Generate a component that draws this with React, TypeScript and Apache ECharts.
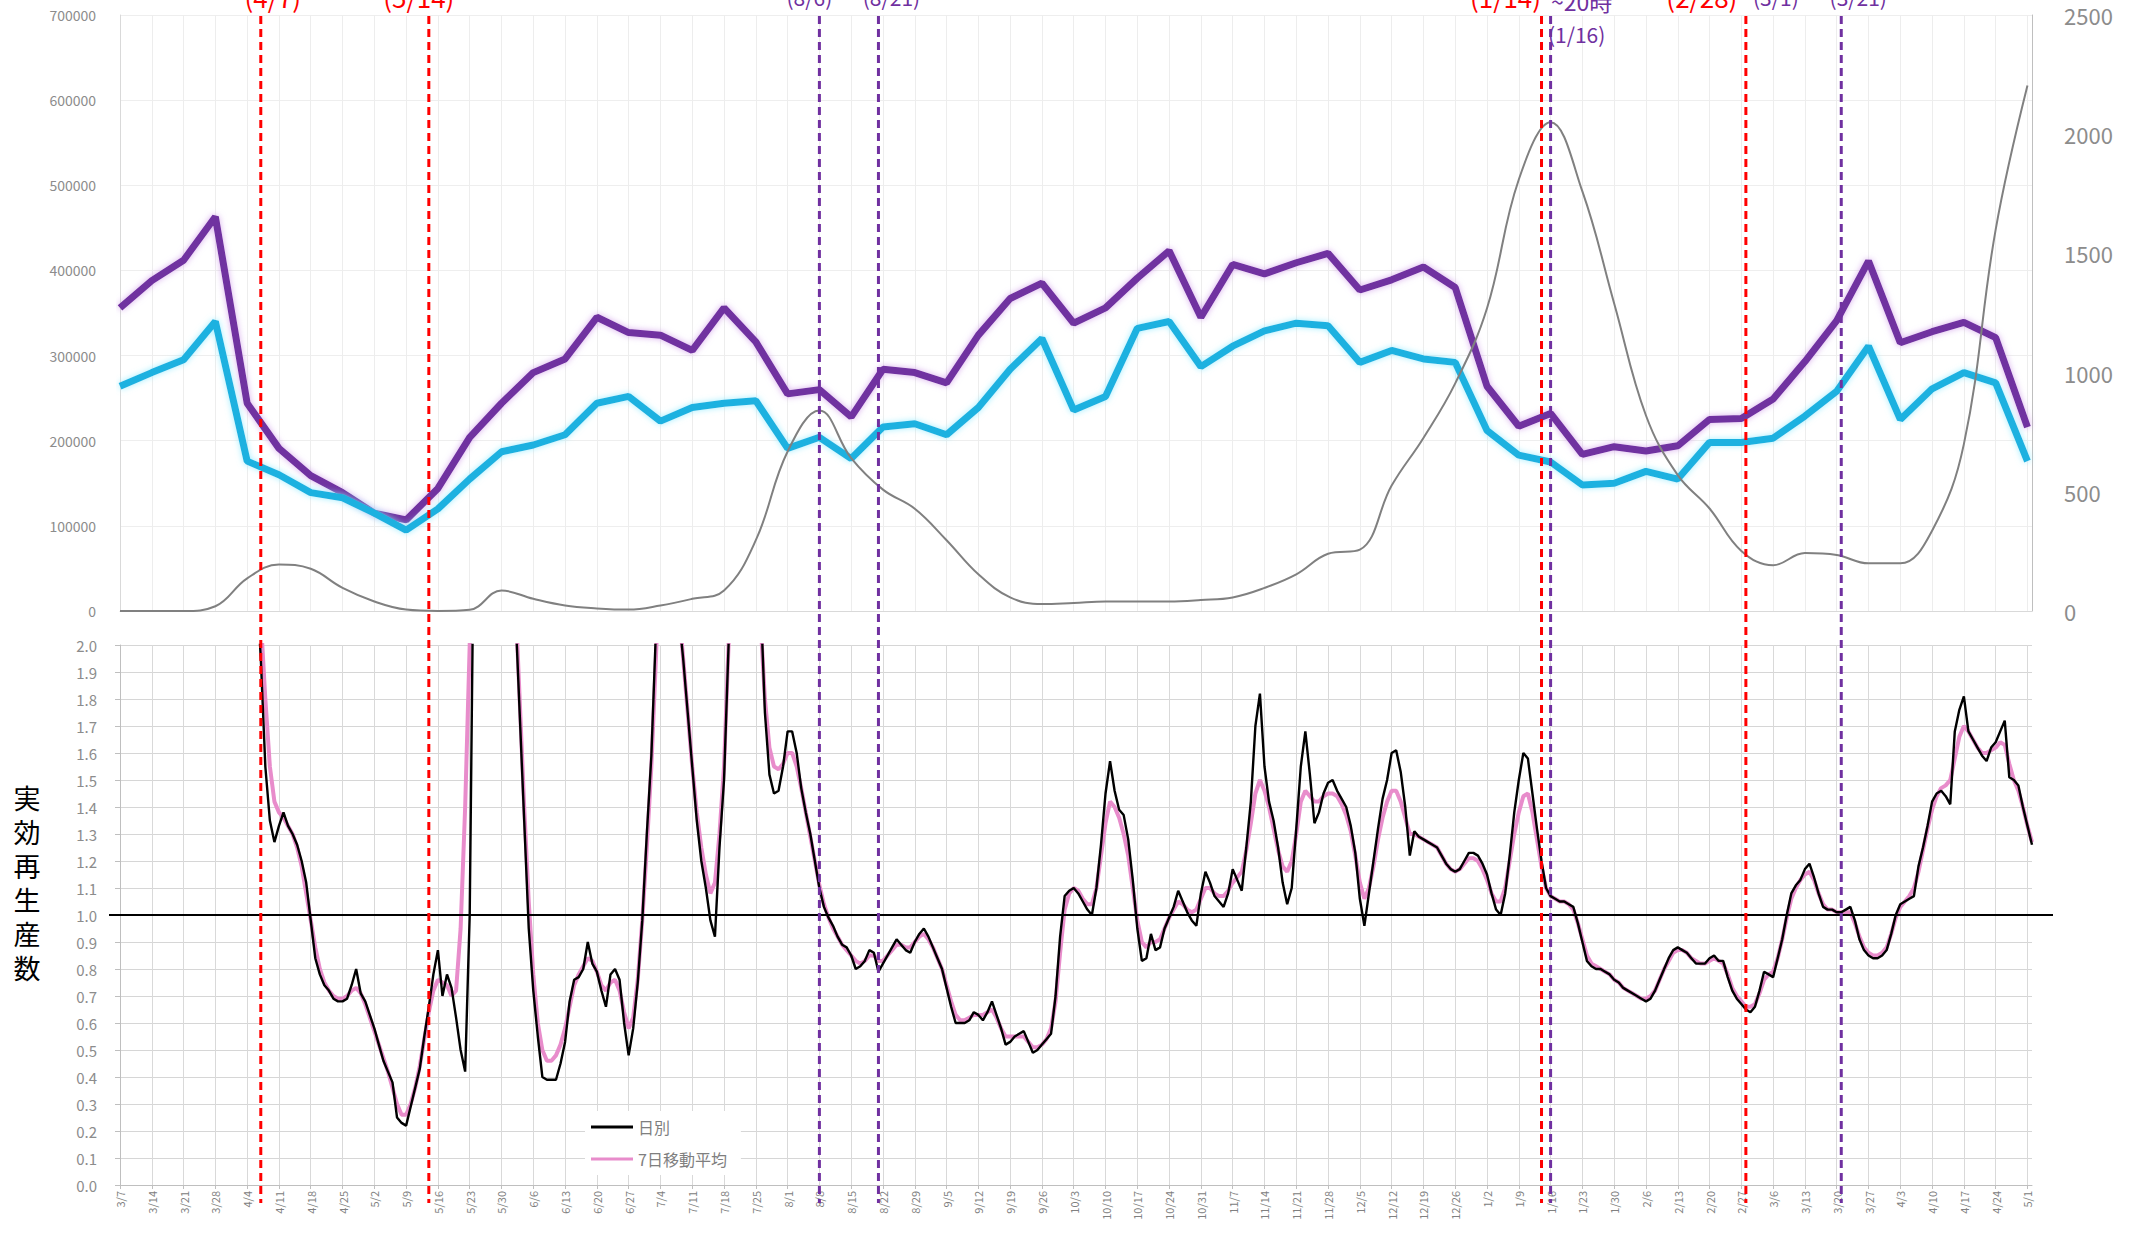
import React, { useEffect, useRef } from "react";
import * as echarts from "echarts";

// ---- categories: one per day, 2020-03-07 .. 2021-05-02 ----
const START_Y = 2020;
const START_M = 2; // March (0-based)
const START_D = 7;
const N_DAYS = 422;
const dayLabels: string[] = [];
for (let i = 0; i < N_DAYS; i++) {
  const d = new Date(START_Y, START_M, START_D + i);
  dayLabels.push(`${d.getMonth() + 1}/${d.getDate()}`);
}

// ---- top chart: weekly values (every 7 days from 3/7) ----
const purpleWeekly = [
  356000, 388000, 412000, 463000, 244000, 191000, 159000, 139000, 115000, 107000,
  144000, 204000, 244000, 280000, 296000, 345000, 327000, 324000, 306000, 356000,
  316000, 255000, 260000, 228000, 284000, 280000, 268000, 324000, 367000, 385000,
  338000, 356000, 391000, 423000, 345000, 407000, 396000, 409000, 420000, 377000,
  389000, 404000, 380000, 264000, 217000, 232000, 184000, 193000, 188000, 194000,
  225000, 226000, 249000, 293000, 341000, 411000, 315000, 328000, 339000, 321000, 216000,
];
const cyanWeekly = [
  264000, 280000, 295000, 340000, 176000, 160000, 139000, 133000, 115000, 95000,
  120000, 155000, 187000, 195000, 207000, 244000, 252000, 223000, 239000, 244000,
  247000, 191000, 204000, 179000, 216000, 220000, 207000, 239000, 284000, 320000,
  236000, 252000, 332000, 340000, 287000, 311000, 329000, 338000, 335000, 292000,
  306000, 296000, 292000, 212000, 183000, 175000, 148000, 150000, 164000, 155000,
  198000, 198000, 203000, 229000, 258000, 311000, 225000, 261000, 280000, 268000, 176000,
];
const grayWeekly = [
  0, 0, 0, 20, 137, 195, 177, 97, 40, 6,
  0, 5, 86, 51, 23, 11, 6, 23, 51, 86,
  297, 669, 841, 641, 509, 429, 297, 154, 57, 29,
  34, 40, 40, 40, 46, 57, 97, 154, 240, 257,
  526, 726, 955, 1270, 1810, 2050, 1760, 1290, 820, 570,
  430, 252, 192, 243, 235, 200, 200, 337, 700, 1600, 2204,
];

// ---- bottom chart: daily values from day index 30 (4/6) to 421 ----
const R_START = 30;
const rDaily = [
  2.25, 1.95, 1.55, 1.35, 1.27, 1.33, 1.38, 1.33, 1.30, 1.26,
  1.20, 1.12, 0.98, 0.84, 0.78, 0.74, 0.72, 0.69, 0.68, 0.68,
  0.69, 0.74, 0.80, 0.71, 0.68, 0.63, 0.58, 0.52, 0.46, 0.42,
  0.38, 0.25, 0.23, 0.22, 0.29, 0.36, 0.43, 0.55, 0.66, 0.78,
  0.87, 0.70, 0.78, 0.73, 0.62, 0.50, 0.42, 1.00, 2.60, 3.00,
  3.00, 3.00, 3.00, 3.00, 3.00, 3.00, 2.90, 2.15, 1.75, 1.35,
  0.95, 0.72, 0.55, 0.40, 0.39, 0.39, 0.39, 0.45, 0.53, 0.68,
  0.76, 0.77, 0.80, 0.90, 0.82, 0.79, 0.72, 0.66, 0.78, 0.80,
  0.76, 0.60, 0.48, 0.58, 0.75, 0.98, 1.30, 1.59, 2.05, 2.60,
  3.00, 3.00, 2.60, 2.12, 1.95, 1.75, 1.55, 1.35, 1.20, 1.10,
  0.98, 0.92, 1.25, 1.50, 2.00, 2.60, 3.00, 3.00, 3.00, 3.00,
  2.60, 2.20, 1.75, 1.52, 1.45, 1.46, 1.55, 1.68, 1.68, 1.60,
  1.47, 1.38, 1.30, 1.20, 1.10, 1.03, 0.99, 0.96, 0.92, 0.89,
  0.88, 0.85, 0.80, 0.81, 0.83, 0.87, 0.86, 0.79, 0.82, 0.85,
  0.88, 0.91, 0.89, 0.87, 0.86, 0.90, 0.93, 0.95, 0.92, 0.88,
  0.84, 0.80, 0.73, 0.66, 0.60, 0.60, 0.60, 0.61, 0.64, 0.63,
  0.61, 0.64, 0.68, 0.63, 0.58, 0.52, 0.53, 0.55, 0.56, 0.57,
  0.53, 0.49, 0.50, 0.52, 0.54, 0.56, 0.70, 0.92, 1.07, 1.09,
  1.10, 1.08, 1.05, 1.02, 1.00, 1.10, 1.26, 1.45, 1.57, 1.46,
  1.39, 1.37, 1.28, 1.13, 0.95, 0.83, 0.84, 0.93, 0.87, 0.88,
  0.95, 0.99, 1.03, 1.09, 1.05, 1.01, 0.98, 0.96, 1.08, 1.16,
  1.12, 1.07, 1.05, 1.03, 1.08, 1.17, 1.13, 1.09, 1.25, 1.42,
  1.70, 1.82, 1.55, 1.42, 1.35, 1.25, 1.12, 1.04, 1.10, 1.32,
  1.55, 1.68, 1.52, 1.34, 1.38, 1.45, 1.49, 1.50, 1.46, 1.43,
  1.40, 1.33, 1.23, 1.06, 0.96, 1.08, 1.20, 1.32, 1.43, 1.50,
  1.60, 1.61, 1.53, 1.40, 1.22, 1.31, 1.29, 1.28, 1.27, 1.26,
  1.25, 1.22, 1.19, 1.17, 1.16, 1.17, 1.20, 1.23, 1.23, 1.22,
  1.19, 1.15, 1.08, 1.02, 1.00, 1.08, 1.22, 1.38, 1.50, 1.60,
  1.58, 1.45, 1.32, 1.20, 1.10, 1.07, 1.06, 1.05, 1.05, 1.04,
  1.03, 0.97, 0.90, 0.83, 0.81, 0.80, 0.80, 0.79, 0.78, 0.76,
  0.75, 0.73, 0.72, 0.71, 0.70, 0.69, 0.68, 0.69, 0.72, 0.76,
  0.80, 0.84, 0.87, 0.88, 0.87, 0.86, 0.84, 0.82, 0.82, 0.82,
  0.84, 0.85, 0.83, 0.83, 0.77, 0.72, 0.69, 0.67, 0.65, 0.64,
  0.66, 0.72, 0.79, 0.78, 0.77, 0.84, 0.91, 1.00, 1.08, 1.11,
  1.13, 1.17, 1.19, 1.14, 1.08, 1.03, 1.02, 1.02, 1.01, 1.01,
  1.02, 1.03, 0.98, 0.91, 0.87, 0.85, 0.84, 0.84, 0.85, 0.87,
  0.93, 1.00, 1.04, 1.05, 1.06, 1.07, 1.18, 1.25, 1.33, 1.42,
  1.45, 1.46, 1.44, 1.41, 1.68, 1.76, 1.81, 1.68, 1.65, 1.62,
  1.59, 1.57, 1.62, 1.64, 1.68, 1.72, 1.51, 1.50, 1.48, 1.40,
  1.33, 1.26,
];
const rMA7 = [
  2.40, 2.10, 1.80, 1.55, 1.42, 1.38, 1.36, 1.33, 1.30, 1.25,
  1.18, 1.08, 0.98, 0.88, 0.80, 0.75, 0.72, 0.70, 0.69, 0.69,
  0.70, 0.72, 0.73, 0.71, 0.67, 0.62, 0.57, 0.52, 0.47, 0.42,
  0.36, 0.30, 0.26, 0.26, 0.30, 0.36, 0.44, 0.54, 0.64, 0.72,
  0.76, 0.75, 0.74, 0.70, 0.72, 0.95, 1.40, 2.00, 2.60, 3.00,
  3.00, 3.00, 3.00, 3.00, 3.00, 3.00, 2.60, 2.20, 1.80, 1.40,
  1.05, 0.78, 0.60, 0.50, 0.46, 0.46, 0.48, 0.52, 0.58, 0.66,
  0.74, 0.78, 0.81, 0.84, 0.83, 0.79, 0.74, 0.72, 0.75, 0.76,
  0.72, 0.64, 0.58, 0.62, 0.76, 0.98, 1.25, 1.55, 1.95, 2.40,
  2.80, 2.80, 2.40, 2.15, 1.95, 1.75, 1.55, 1.38, 1.25, 1.15,
  1.08, 1.12, 1.30, 1.55, 2.00, 2.50, 2.80, 2.80, 2.80, 2.60,
  2.40, 2.10, 1.80, 1.62, 1.55, 1.54, 1.56, 1.60, 1.60, 1.55,
  1.47, 1.38, 1.29, 1.20, 1.11, 1.04, 0.99, 0.95, 0.92, 0.89,
  0.87, 0.85, 0.83, 0.82, 0.83, 0.85, 0.85, 0.83, 0.83, 0.85,
  0.87, 0.89, 0.89, 0.88, 0.88, 0.90, 0.92, 0.93, 0.91, 0.88,
  0.84, 0.80, 0.74, 0.68, 0.63, 0.61, 0.61, 0.62, 0.63, 0.63,
  0.63, 0.64, 0.65, 0.62, 0.58, 0.55, 0.55, 0.55, 0.55, 0.55,
  0.53, 0.51, 0.51, 0.52, 0.54, 0.58, 0.68, 0.86, 1.02, 1.08,
  1.10, 1.09, 1.06, 1.04, 1.04, 1.10, 1.22, 1.34, 1.42, 1.40,
  1.36, 1.30, 1.22, 1.10, 0.98, 0.90, 0.88, 0.90, 0.90, 0.91,
  0.95, 0.99, 1.02, 1.05, 1.04, 1.02, 1.01, 1.02, 1.06, 1.10,
  1.10, 1.08, 1.07, 1.07, 1.09, 1.12, 1.14, 1.16, 1.24, 1.34,
  1.45, 1.50, 1.46, 1.40, 1.32, 1.24, 1.18, 1.16, 1.20, 1.30,
  1.42, 1.46, 1.44, 1.42, 1.42, 1.44, 1.45, 1.45, 1.44, 1.41,
  1.37, 1.31, 1.22, 1.12, 1.06, 1.10, 1.18, 1.28, 1.36, 1.42,
  1.46, 1.46, 1.42, 1.36, 1.30, 1.30, 1.29, 1.28, 1.27, 1.26,
  1.25, 1.22, 1.19, 1.17, 1.16, 1.17, 1.19, 1.21, 1.21, 1.20,
  1.17, 1.13, 1.08, 1.05, 1.05, 1.10, 1.20, 1.30, 1.38, 1.44,
  1.45, 1.38, 1.28, 1.18, 1.10, 1.07, 1.06, 1.05, 1.05, 1.04,
  1.02, 0.97, 0.91, 0.85, 0.82, 0.81, 0.80, 0.79, 0.78, 0.76,
  0.75, 0.73, 0.72, 0.71, 0.70, 0.69, 0.69, 0.70, 0.72, 0.76,
  0.80, 0.83, 0.86, 0.87, 0.87, 0.86, 0.84, 0.83, 0.82, 0.82,
  0.83, 0.84, 0.83, 0.82, 0.78, 0.73, 0.70, 0.68, 0.66, 0.66,
  0.67, 0.71, 0.76, 0.78, 0.79, 0.84, 0.91, 0.99, 1.06, 1.10,
  1.13, 1.15, 1.16, 1.13, 1.08, 1.04, 1.02, 1.02, 1.01, 1.01,
  1.01, 1.01, 0.97, 0.92, 0.88, 0.86, 0.85, 0.85, 0.86, 0.88,
  0.93, 0.99, 1.03, 1.05, 1.07, 1.10, 1.16, 1.24, 1.32, 1.39,
  1.44, 1.47, 1.48, 1.50, 1.58, 1.66, 1.70, 1.68, 1.65, 1.62,
  1.60, 1.60, 1.61, 1.62, 1.64, 1.63, 1.56, 1.50, 1.46, 1.40,
  1.33, 1.27,
];

// ---- event markers (day index from 3/7/2020) ----
const redDays = [31, 68, 313, 358];
const purpleDays = [154, 167, 315, 379];
const eventLabels = [
  { day: 31, text: "(4/7)", color: "#ff0000", size: 26, dx: 12, y: 9 },
  { day: 68, text: "(5/14)", color: "#ff0000", size: 26, dx: -10, y: 9 },
  { day: 154, text: "(8/6)", color: "#7030a0", size: 21, dx: -10, y: 7 },
  { day: 167, text: "(8/21)", color: "#7030a0", size: 21, dx: 13, y: 7 },
  { day: 313, text: "(1/14)", color: "#ff0000", size: 26, dx: -36, y: 9 },
  { day: 315, text: "~20時", color: "#7030a0", size: 23, dx: 31, y: 12 },
  { day: 315, text: "(1/16)", color: "#7030a0", size: 21, dx: 26, y: 44 },
  { day: 358, text: "(2/28)", color: "#ff0000", size: 26, dx: -44, y: 9 },
  { day: 358, text: "(3/1)", color: "#7030a0", size: 21, dx: 30, y: 7 },
  { day: 379, text: "(3/21)", color: "#7030a0", size: 21, dx: 17, y: 7 },
];
const yAxisTitleChars = ["実", "効", "再", "生", "産", "数"];

const FONT = '"Noto Sans CJK JP", "Noto Sans", sans-serif';

const toWeeklyPairs = (arr: number[]) => arr.map((v, i) => [i * 7, v]);
const toDailyPairs = (arr: number[], start: number) => arr.map((v, i) => [start + i, v]);

export default function App() {
  const ref = useRef<HTMLDivElement>(null);
  useEffect(() => {
    if (!ref.current) return;
    const chart = echarts.init(ref.current, null, { renderer: "svg" });
    const gridTop = { left: 120, top: 15, width: 1912, height: 596 };
    const gridBot = { left: 120, top: 645, width: 1912, height: 540 };
    const option: any = {
      animation: false,
      backgroundColor: "#ffffff",
      textStyle: { fontFamily: FONT },
      grid: [gridTop, gridBot],
      legend: {
        data: ["日別", "7日移動平均"],
        orient: "vertical",
        left: 585,
        top: 1111,
        icon: "rect",
        itemWidth: 42,
        itemHeight: 3,
        itemGap: 16,
        backgroundColor: "#ffffff",
        padding: [8, 14, 8, 6],
        textStyle: { fontSize: 16, color: "#7f7f7f", fontFamily: FONT },
      },
      xAxis: [
        {
          type: "category",
          gridIndex: 0,
          data: dayLabels,
          boundaryGap: false,
          axisLabel: { show: false },
          axisTick: { show: false },
          axisLine: { lineStyle: { color: "#d9d9d9" } },
          splitLine: { show: true, interval: 6, lineStyle: { color: "#ededed", width: 1 } },
        },
        {
          type: "category",
          gridIndex: 1,
          data: dayLabels,
          boundaryGap: false,
          axisLabel: { interval: 6, rotate: 90, fontSize: 11, color: "#808080", margin: 6 },
          axisTick: { show: true, interval: 6, length: 4, lineStyle: { color: "#bfbfbf" } },
          axisLine: { lineStyle: { color: "#bfbfbf" } },
          splitLine: { show: true, interval: 6, lineStyle: { color: "#d9d9d9", width: 1 } },
        },
      ],
      yAxis: [
        {
          type: "value",
          gridIndex: 0,
          min: 0,
          max: 700000,
          interval: 100000,
          axisLabel: { fontSize: 14, color: "#8c8c8c", margin: 24, formatter: (v: number) => String(v) },
          axisLine: { show: true, lineStyle: { color: "#d9d9d9" } },
          axisTick: { show: false },
          splitLine: { lineStyle: { color: "#eeeeee" } },
        },
        {
          type: "value",
          gridIndex: 0,
          position: "right",
          min: 0,
          max: 2500,
          interval: 500,
          axisLabel: { fontSize: 22, color: "#8c8c8c", margin: 32, formatter: (v: number) => String(v) },
          axisLine: { show: true, lineStyle: { color: "#bfbfbf" } },
          axisTick: { show: false },
          splitLine: { show: false },
        },
        {
          type: "value",
          gridIndex: 1,
          min: 0,
          max: 2,
          interval: 0.1,
          axisLabel: {
            fontSize: 15,
            color: "#8c8c8c",
            margin: 23,
            formatter: (v: number) => v.toFixed(1),
          },
          axisLine: { show: true, lineStyle: { color: "#bfbfbf" } },
          axisTick: { show: true, length: 5, lineStyle: { color: "#bfbfbf" } },
          splitLine: { lineStyle: { color: "#d6d6d6" } },
        },
      ],
      series: [
        {
          name: "人出A",
          type: "line",
          xAxisIndex: 0,
          yAxisIndex: 0,
          data: toWeeklyPairs(purpleWeekly),
          symbol: "none",
          color: "#7030a0",
          lineStyle: { width: 7, color: "#7030a0", shadowBlur: 6, shadowColor: "rgba(200,140,230,0.7)" },
          z: 3,
        },
        {
          name: "人出B",
          type: "line",
          xAxisIndex: 0,
          yAxisIndex: 0,
          data: toWeeklyPairs(cyanWeekly),
          symbol: "none",
          color: "#1fb1e0",
          lineStyle: { width: 7, color: "#1fb1e0", shadowBlur: 6, shadowColor: "rgba(140,235,255,0.8)" },
          z: 3,
        },
        {
          name: "陽性者数",
          type: "line",
          xAxisIndex: 0,
          yAxisIndex: 1,
          data: toWeeklyPairs(grayWeekly),
          symbol: "none",
          smooth: 0.4,
          color: "#808080",
          lineStyle: { width: 2, color: "#808080" },
          z: 4,
        },
        {
          name: "7日移動平均",
          type: "line",
          xAxisIndex: 1,
          yAxisIndex: 2,
          data: toDailyPairs(rMA7, R_START),
          symbol: "none",
          color: "#e88ccb",
          lineStyle: { width: 4, color: "#e88ccb" },
          clip: true,
          z: 3,
        },
        {
          name: "日別",
          type: "line",
          xAxisIndex: 1,
          yAxisIndex: 2,
          data: toDailyPairs(rDaily, R_START),
          symbol: "none",
          color: "#000000",
          lineStyle: { width: 2.4, color: "#000000" },
          clip: true,
          z: 4,
        },
      ],
    };
    chart.setOption(option);

    const xPix = (d: number) => chart.convertToPixel({ xAxisIndex: 1 }, d) as number;
    const yOne = chart.convertToPixel({ yAxisIndex: 2 }, 1.0) as number;
    const lineTop = gridTop.top + 1;
    const lineBottom = gridBot.top + gridBot.height + 18;
    const graphics: any[] = [];
    graphics.push({
      type: "line",
      z: 50,
      shape: {
        x1: gridBot.left - 11,
        y1: yOne,
        x2: gridBot.left + gridBot.width + 21,
        y2: yOne,
      },
      style: { stroke: "#000000", lineWidth: 2.2 },
    });
    purpleDays.forEach((d) => {
      const x = xPix(d);
      graphics.push({
        type: "line",
        z: 60,
        shape: { x1: x, y1: lineTop, x2: x, y2: lineBottom },
        style: { stroke: "#7030a0", lineWidth: 3, lineDash: [8, 5] },
      });
    });
    redDays.forEach((d) => {
      const x = xPix(d);
      graphics.push({
        type: "line",
        z: 61,
        shape: { x1: x, y1: lineTop, x2: x, y2: lineBottom },
        style: { stroke: "#ff0000", lineWidth: 3, lineDash: [8, 5] },
      });
    });
    eventLabels.forEach((l) => {
      graphics.push({
        type: "text",
        z: 70,
        x: xPix(l.day) + l.dx,
        y: l.y,
        style: {
          text: l.text,
          fill: l.color,
          fontSize: l.size,
          fontFamily: FONT,
          align: "center",
          verticalAlign: "bottom",
        },
      });
    });
    yAxisTitleChars.forEach((c, i) => {
      graphics.push({
        type: "text",
        z: 70,
        x: 27,
        y: 797 + i * 34,
        style: {
          text: c,
          fill: "#000000",
          fontSize: 27,
          lineHeight: 32,
          fontFamily: FONT,
          align: "center",
          verticalAlign: "middle",
        },
      });
    });
    chart.setOption({ graphic: graphics });

    return () => chart.dispose();
  }, []);
  return (
    <div
      ref={ref}
      style={{ position: "fixed", left: 0, top: 0, width: "2143px", height: "1235px", background: "#fff" }}
    />
  );
}
